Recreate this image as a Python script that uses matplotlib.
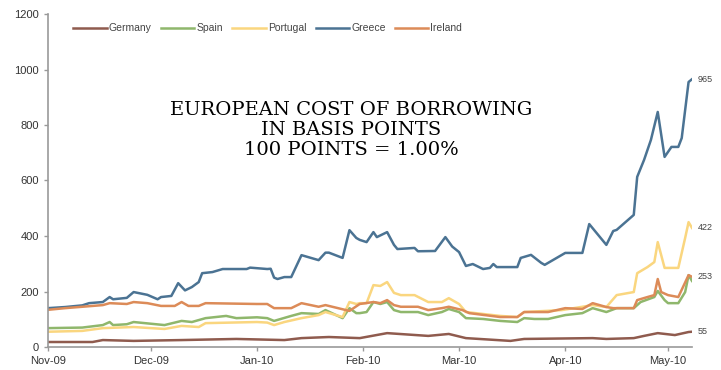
import pandas as pd
import matplotlib.pyplot as plt
import matplotlib.dates as mdates

# spreads in basis points
greece_dates = ['2009-11-01', '2009-11-06', '2009-11-11', '2009-11-13', '2009-11-17', '2009-11-19',
                '2009-11-20', '2009-11-24', '2009-11-26', '2009-11-30', '2009-12-03', '2009-12-04',
                '2009-12-07', '2009-12-09', '2009-12-11', '2009-12-13', '2009-12-15', '2009-12-16',
                '2009-12-19', '2009-12-22', '2009-12-29', '2009-12-30', '2010-01-04', '2010-01-05',
                '2010-01-06', '2010-01-07', '2010-01-09', '2010-01-11', '2010-01-14', '2010-01-19',
                '2010-01-21', '2010-01-22', '2010-01-26', '2010-01-28', '2010-01-30', '2010-01-31',
                '2010-02-02', '2010-02-04', '2010-02-05', '2010-02-08', '2010-02-10', '2010-02-11',
                '2010-02-16', '2010-02-17', '2010-02-22', '2010-02-25', '2010-02-27', '2010-03-01',
                '2010-03-03', '2010-03-05', '2010-03-08', '2010-03-10', '2010-03-11', '2010-03-12',
                '2010-03-18', '2010-03-19', '2010-03-22', '2010-03-25', '2010-03-26', '2010-04-01',
                '2010-04-06', '2010-04-08', '2010-04-13', '2010-04-15', '2010-04-16', '2010-04-21',
                '2010-04-22', '2010-04-24', '2010-04-26', '2010-04-28', '2010-04-30', '2010-05-02',
                '2010-05-04', '2010-05-05', '2010-05-07', '2010-05-08']
greece = [140, 144, 150, 158, 162, 180, 172, 177, 198, 188, 172, 180,
          184, 230, 204, 216, 234, 266, 270, 281, 281, 286, 281, 282,
          250, 245, 252, 252, 331, 313, 340, 340, 321, 421, 393, 386,
          378, 414, 396, 414, 368, 353, 357, 345, 346, 396, 362, 342,
          292, 299, 281, 285, 299, 288, 288, 321, 332, 303, 296, 339,
          339, 443, 368, 418, 422, 476, 613, 674, 746, 847, 685, 721,
          721, 753, 955, 965]

ireland_dates = ['2009-11-01', '2009-11-06', '2009-11-11', '2009-11-17', '2009-11-19', '2009-11-24',
                 '2009-11-26', '2009-11-30', '2009-12-04', '2009-12-08', '2009-12-10', '2009-12-12',
                 '2009-12-15', '2009-12-17', '2010-01-01', '2010-01-04', '2010-01-06', '2010-01-11',
                 '2010-01-14', '2010-01-19', '2010-01-21', '2010-01-28', '2010-01-31', '2010-02-04',
                 '2010-02-06', '2010-02-08', '2010-02-10', '2010-02-12', '2010-02-17', '2010-02-20',
                 '2010-02-24', '2010-02-26', '2010-03-02', '2010-03-04', '2010-03-13', '2010-03-18',
                 '2010-03-20', '2010-03-27', '2010-04-01', '2010-04-06', '2010-04-09', '2010-04-13',
                 '2010-04-15', '2010-04-21', '2010-04-22', '2010-04-25', '2010-04-27', '2010-04-28',
                 '2010-04-29', '2010-05-01', '2010-05-04', '2010-05-07', '2010-05-08']
ireland = [134, 140, 145, 151, 158, 155, 162, 158, 148, 148, 162, 148,
           148, 158, 155, 155, 140, 140, 158, 145, 151, 130, 155, 162,
           158, 169, 151, 145, 145, 133, 140, 145, 133, 122, 108, 108,
           126, 126, 140, 137, 158, 144, 140, 140, 169, 180, 187, 245,
           198, 187, 180, 259, 253]

spain_dates = ['2009-11-01', '2009-11-11', '2009-11-17', '2009-11-19', '2009-11-20', '2009-11-24',
               '2009-11-26', '2009-12-05', '2009-12-10', '2009-12-13', '2009-12-15', '2009-12-17',
               '2009-12-23', '2009-12-26', '2010-01-01', '2010-01-04', '2010-01-06', '2010-01-11',
               '2010-01-14', '2010-01-19', '2010-01-21', '2010-01-26', '2010-01-28', '2010-01-30',
               '2010-01-31', '2010-02-02', '2010-02-04', '2010-02-06', '2010-02-08', '2010-02-10',
               '2010-02-12', '2010-02-17', '2010-02-20', '2010-02-24', '2010-02-26', '2010-03-01',
               '2010-03-03', '2010-03-08', '2010-03-13', '2010-03-18', '2010-03-20', '2010-03-23',
               '2010-03-27', '2010-04-01', '2010-04-06', '2010-04-09', '2010-04-13', '2010-04-16',
               '2010-04-21', '2010-04-23', '2010-04-27', '2010-04-28', '2010-04-30', '2010-05-01',
               '2010-05-04', '2010-05-06', '2010-05-07', '2010-05-08']
spain = [68, 70, 79, 90, 79, 82, 90, 79, 94, 90, 97, 104,
         112, 104, 107, 104, 94, 112, 122, 119, 133, 104, 140, 122,
         122, 126, 162, 155, 162, 133, 126, 126, 115, 126, 137, 126,
         104, 101, 94, 90, 104, 101, 101, 115, 122, 140, 126, 140,
         140, 162, 180, 202, 169, 158, 158, 198, 259, 238]

portugal_dates = ['2009-11-01', '2009-11-11', '2009-11-17', '2009-11-26', '2009-12-05', '2009-12-10',
                  '2009-12-15', '2009-12-17', '2010-01-01', '2010-01-04', '2010-01-06', '2010-01-09',
                  '2010-01-14', '2010-01-19', '2010-01-21', '2010-01-26', '2010-01-28', '2010-01-30',
                  '2010-01-31', '2010-02-02', '2010-02-04', '2010-02-06', '2010-02-08', '2010-02-10',
                  '2010-02-12', '2010-02-16', '2010-02-20', '2010-02-24', '2010-02-26', '2010-03-01',
                  '2010-03-03', '2010-03-13', '2010-03-18', '2010-03-20', '2010-03-31', '2010-04-09',
                  '2010-04-13', '2010-04-16', '2010-04-21', '2010-04-22', '2010-04-25', '2010-04-27',
                  '2010-04-28', '2010-04-30', '2010-05-04', '2010-05-06', '2010-05-07', '2010-05-08']
portugal = [55, 58, 68, 72, 65, 76, 72, 86, 90, 88, 79, 90,
            104, 115, 126, 108, 162, 155, 158, 158, 223, 220, 234, 195,
            187, 187, 162, 162, 176, 155, 126, 112, 108, 126, 133, 151,
            144, 187, 198, 266, 288, 306, 378, 285, 285, 393, 450, 429]

germany_dates = ['2009-11-01', '2009-11-14', '2009-11-17', '2009-11-26', '2009-12-10', '2009-12-26',
                 '2010-01-09', '2010-01-14', '2010-01-22', '2010-01-31', '2010-02-08', '2010-02-20',
                 '2010-02-26', '2010-03-03', '2010-03-16', '2010-03-20', '2010-04-09', '2010-04-13',
                 '2010-04-21', '2010-04-24', '2010-04-28', '2010-05-03', '2010-05-07', '2010-05-08']
germany = [18, 18, 25, 22, 25, 29, 25, 32, 36, 32, 50, 40,
           47, 32, 22, 29, 32, 29, 32, 40, 50, 43, 54, 55]

series = [
    ('Germany', germany_dates, germany, '#8f5b4e'),
    ('Spain', spain_dates, spain, '#8fb76c'),
    ('Portugal', portugal_dates, portugal, '#fad67f'),
    ('Greece', greece_dates, greece, '#4b7393'),
    ('Ireland', ireland_dates, ireland, '#dc8b58'),
]
end_labels = {'Greece': '965', 'Portugal': '422', 'Ireland': '253', 'Germany': '55'}

plt.rcParams['font.family'] = ['Liberation Sans', 'DejaVu Sans']

fig = plt.figure(figsize=(7.21, 3.70), dpi=100)
ax = fig.add_axes([48 / 721, 23 / 370, 644 / 721, 333 / 370])

for name, d, v, c in series:
    ax.plot(pd.to_datetime(d), v, color=c, lw=1.8, label=name, solid_joinstyle='round')
    if name in end_labels:
        ax.annotate(end_labels[name], (pd.to_datetime(d[-1]), v[-1]), xytext=(4, 0),
                    textcoords='offset points', fontsize=6.5, color='#444444', va='center')

ax.set_ylim(0, 1200)
ax.set_yticks(range(0, 1201, 200))
ax.set_xlim(pd.Timestamp('2009-11-01'), pd.Timestamp('2010-05-08'))
ax.xaxis.set_major_locator(mdates.MonthLocator())
ax.xaxis.set_major_formatter(mdates.DateFormatter('%b-%y'))

for s in ['top', 'right']:
    ax.spines[s].set_visible(False)
for s in ['left', 'bottom']:
    ax.spines[s].set_color('#999999')
    ax.spines[s].set_linewidth(1.2)
ax.tick_params(axis='both', colors='#999999', labelcolor='#333333', labelsize=8, length=3, width=1)

ax.legend(loc='upper left', bbox_to_anchor=(0.025, 1.0), ncol=5, frameon=False, fontsize=7.5,
          handlelength=3.2, handletextpad=0.2, columnspacing=0.9, labelcolor='#444444')

fig.text(0.487, 0.648, 'EUROPEAN COST OF BORROWING\nIN BASIS POINTS\n100 POINTS = 1.00%',
         ha='center', va='center', fontsize=14, family='DejaVu Serif', linespacing=1.15)

fig.savefig('out.png', dpi=100)
